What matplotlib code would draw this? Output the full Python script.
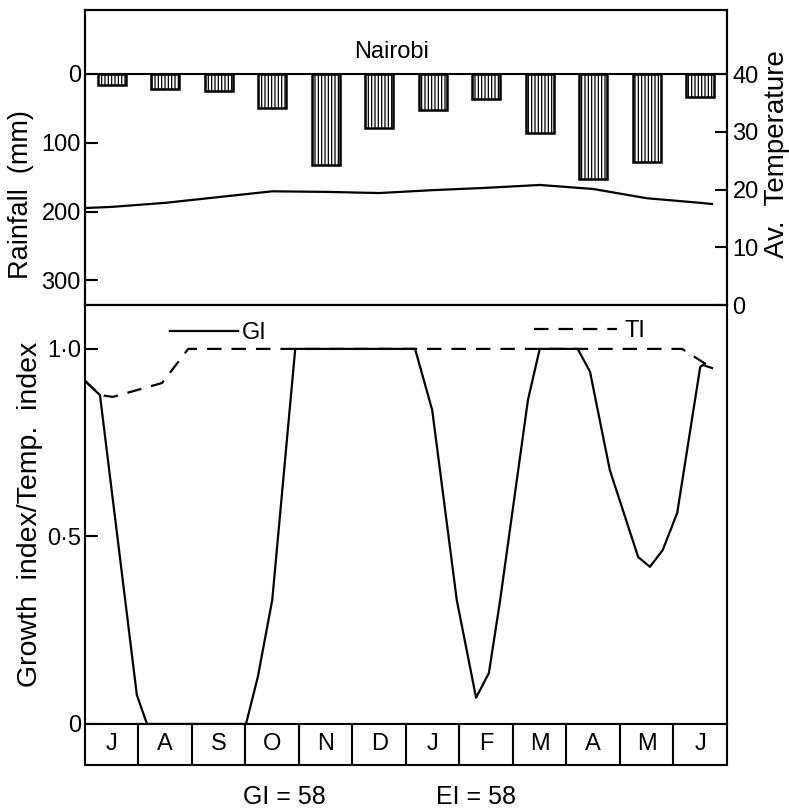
#Nairobi rainfall / temperature and growth index chart
import numpy as np
import matplotlib
matplotlib.use('Agg')
from matplotlib import pyplot as plt
from matplotlib.lines import Line2D

plt.rcParams['font.family'] = ['Liberation Sans', 'DejaVu Sans']
plt.rcParams['hatch.linewidth'] = 0.9

# months, July to June
months = ['J', 'A', 'S', 'O', 'N', 'D', 'J', 'F', 'M', 'A', 'M', 'J']
rain = [16, 22, 25, 50, 133, 78, 52, 37, 86, 152, 128, 33]

# average temperature (x in months from start of July)
temp_x = [0, 0.5, 1.5, 2.5, 3.5, 4.5, 5.5, 6.5, 7.5, 8.5, 9.5, 10.5, 11.5, 11.72]
temp = [16.8, 17.0, 17.7, 18.7, 19.7, 19.6, 19.4, 19.9, 20.3, 20.8, 20.1, 18.5, 17.7, 17.5]

# growth index
gi_x = [0, 0.28, 0.97, 1.16, 3.01, 3.23, 3.50, 3.93, 6.17, 6.49, 6.95, 7.31, 7.55,
        7.76, 8.28, 8.50, 9.21, 9.44, 9.81, 10.34, 10.56, 10.80, 11.07, 11.50, 11.55, 11.72]
gi = [0.915, 0.877, 0.077, 0, 0, 0.125, 0.33, 1.0, 1.0, 0.837, 0.33, 0.07, 0.136,
      0.33, 0.864, 1.0, 1.0, 0.939, 0.677, 0.445, 0.419, 0.464, 0.563, 0.952, 0.957, 0.949]

# temperature index
ti_x = [0, 0.28, 0.52, 1.44, 1.93, 11.16, 11.72]
ti = [0.915, 0.877, 0.872, 0.909, 1.0, 1.0, 0.949]

lw = 1.5
fs = 17
dash = (0, (6.5, 4.5))

fig = plt.figure(figsize=(7.89, 8.11), dpi=100)
ax1 = fig.add_axes([0.1077, 0.6239, 0.8137, 0.3637])
ax2 = fig.add_axes([0.1077, 0.1073, 0.8137, 0.5166])
ax3 = fig.add_axes([0.1077, 0.0567, 0.8137, 0.0506])

# ---- top panel: rainfall bars hanging from zero line
x = np.arange(len(months)) + 0.5
ax1.bar(x, rain, width=0.52, color='white', edgecolor='black', hatch='|||||', linewidth=1.8)
ax1.axhline(0, color='black', lw=lw)
ax1.set_xlim(0, 12)
ax1.set_ylim(336, -93)
ax1.set_xticks([])
ax1.set_yticks([0, 100, 200, 300])
ax1.tick_params(axis='y', direction='in', length=9, width=lw, labelsize=fs, pad=3)
ax1.text(0.477, 0.858, 'Nairobi', transform=ax1.transAxes, ha='center', va='center', fontsize=fs)

# temperature on the right axis
axt = ax1.twinx()
axt.plot(temp_x, temp, color='black', lw=1.6)
axt.set_ylim(0, 51.1)
axt.set_yticks([0, 10, 20, 30, 40])
axt.tick_params(axis='y', direction='in', length=9, width=lw, labelsize=fs, pad=4)

for a in (ax1, axt):
    for s in a.spines.values():
        s.set_linewidth(lw)

# ---- bottom panel: GI and TI
ax2.plot(ti_x, ti, color='black', lw=1.6, linestyle=dash)
ax2.plot(gi_x, gi, color='black', lw=1.6)
ax2.set_xlim(0, 12)
ax2.set_ylim(0, 1.117)
ax2.set_xticks([])
ax2.set_yticks([0, 0.5, 1.0])
ax2.set_yticklabels(['0', '0·5', '1·0'])
ax2.tick_params(axis='y', direction='in', length=9, width=lw, labelsize=fs, pad=3)
for s in ax2.spines.values():
    s.set_linewidth(lw)

h_gi = Line2D([], [], color='black', lw=1.6)
h_ti = Line2D([], [], color='black', lw=1.6, linestyle=dash)
leg1 = ax2.legend([h_gi], ['GI'], loc='center left', bbox_to_anchor=(0.132, 0.933),
                  handlelength=2.9, handletextpad=0.15, frameon=False, fontsize=fs,
                  borderpad=0, borderaxespad=0)
ax2.add_artist(leg1)
ax2.legend([h_ti], ['TI'], loc='center left', bbox_to_anchor=(0.70, 0.938),
           handlelength=3.5, handletextpad=0.3, frameon=False, fontsize=fs,
           borderpad=0, borderaxespad=0)

# ---- month boxes
ax3.set_xlim(0, 12)
ax3.set_ylim(0, 1)
ax3.set_xticks([])
ax3.set_yticks([])
for i in range(1, 12):
    ax3.axvline(i, color='black', lw=lw)
for i, m in enumerate(months):
    ax3.text(i + 0.5, 0.5, m, ha='center', va='center', fontsize=fs)
for s in ax3.spines.values():
    s.set_linewidth(lw)

# axis titles and indices
fig.text(0.027, 0.7596, 'Rainfall  (mm)', rotation=90, ha='center', va='center', fontsize=19.5)
fig.text(0.038, 0.366, 'Growth  index/Temp.  index', rotation=90, ha='center', va='center', fontsize=20.5)
fig.text(0.985, 0.81, 'Av.  Temperature', rotation=90, ha='center', va='center', fontsize=20)
fig.text(0.361, 0.017, 'GI = 58', ha='center', va='center', fontsize=18)
fig.text(0.603, 0.017, 'EI = 58', ha='center', va='center', fontsize=18)

plt.savefig('out.png', dpi=100)
